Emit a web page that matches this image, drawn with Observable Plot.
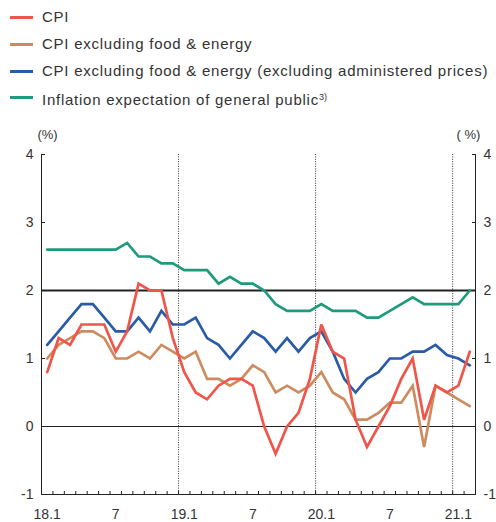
<!DOCTYPE html>
<html>
<head>
<meta charset="utf-8">
<script src="https://cdn.jsdelivr.net/npm/d3@7"></script>
<script src="https://cdn.jsdelivr.net/npm/@observablehq/plot@0.6"></script>
<style>
  html, body { margin: 0; padding: 0; background: #fff; }
  body { width: 496px; height: 522px; overflow: hidden; font-family: "Liberation Sans", Arial, sans-serif; }
  #legend { position: relative; height: 112px; width: 496px; }
  .item { position: absolute; left: 0; height: 20px; line-height: 20px; font-size: 15px; letter-spacing: 0.75px; color: #333; white-space: nowrap; }
  .sw { position: absolute; left: 10px; top: 8.5px; width: 23px; height: 3px; }
  .lbl { position: absolute; left: 42px; top: 0; }
  .lbl sup { font-size: 9px; letter-spacing: 0; vertical-align: 5px; }
  #chart svg { display: block; }
</style>
</head>
<body>
<div id="legend"></div>
<div id="chart"></div>
<script>
// Months: 2018.1 ... 2021.2
const months = [
  "18.1","18.2","18.3","18.4","18.5","18.6","18.7","18.8","18.9","18.10","18.11","18.12",
  "19.1","19.2","19.3","19.4","19.5","19.6","19.7","19.8","19.9","19.10","19.11","19.12",
  "20.1","20.2","20.3","20.4","20.5","20.6","20.7","20.8","20.9","20.10","20.11","20.12",
  "21.1","21.2"
];
const cpi = [
  0.8, 1.3, 1.2, 1.5, 1.5, 1.5, 1.1, 1.4, 2.1, 2.0, 2.0, 1.3,
  0.8, 0.5, 0.4, 0.6, 0.7, 0.7, 0.6, 0.0, -0.4, 0.0, 0.2, 0.7,
  1.5, 1.1, 1.0, 0.1, -0.3, 0.0, 0.3, 0.7, 1.0, 0.1, 0.6, 0.5,
  0.6, 1.1
];
const cpiExFoodEnergy = [
  1.0, 1.2, 1.3, 1.4, 1.4, 1.3, 1.0, 1.0, 1.1, 1.0, 1.2, 1.1,
  1.0, 1.1, 0.7, 0.7, 0.6, 0.7, 0.9, 0.8, 0.5, 0.6, 0.5, 0.6,
  0.8, 0.5, 0.4, 0.1, 0.1, 0.2, 0.35, 0.35, 0.6, -0.3, 0.6, 0.5,
  0.4, 0.3
];
const cpiExFoodEnergyAdmin = [
  1.2, 1.4, 1.6, 1.8, 1.8, 1.6, 1.4, 1.4, 1.6, 1.4, 1.7, 1.5,
  1.5, 1.6, 1.3, 1.2, 1.0, 1.2, 1.4, 1.3, 1.1, 1.3, 1.1, 1.3,
  1.4, 1.1, 0.7, 0.5, 0.7, 0.8, 1.0, 1.0, 1.1, 1.1, 1.2, 1.05,
  1.0, 0.9
];
const expectation = [
  2.6, 2.6, 2.6, 2.6, 2.6, 2.6, 2.6, 2.7, 2.5, 2.5, 2.4, 2.4,
  2.3, 2.3, 2.3, 2.1, 2.2, 2.1, 2.1, 2.0, 1.8, 1.7, 1.7, 1.7,
  1.8, 1.7, 1.7, 1.7, 1.6, 1.6, 1.7, 1.8, 1.9, 1.8, 1.8, 1.8,
  1.8, 2.0
];
const seriesNames = [
  "CPI",
  "CPI excluding food & energy",
  "CPI excluding food & energy (excluding administered prices)",
  "Inflation expectation of general public"
];
const seriesColors = ["#f0554a", "#cc8c5f", "#2a5ba6", "#21997c"];
const seriesValues = [cpi, cpiExFoodEnergy, cpiExFoodEnergyAdmin, expectation];
const xTickLabels = ["18.1", "7", "19.1", "7", "20.1", "7", "21.1"];
const xTickMonths = ["18.1", "18.7", "19.1", "19.7", "20.1", "20.7", "21.1"];
const yTicks = [-1, 0, 1, 2, 3, 4];
const yearStarts = ["19.1", "20.1", "21.1"];
const targetLine = 2;
const unitLabel = "(%)";
const unitLabelRight = "( %)";

// legend
const legend = document.getElementById("legend");
const legendTops = [7, 34, 61, 87];
seriesNames.forEach((name, i) => {
  const it = document.createElement("div");
  it.className = "item";
  it.style.top = legendTops[i] + "px";
  const sw = document.createElement("div");
  sw.className = "sw";
  sw.style.background = seriesColors[i];
  const lb = document.createElement("div");
  lb.className = "lbl";
  lb.innerHTML = name.replace("&", "&amp;") + (i === 3 ? "<sup>3)</sup>" : "");
  it.appendChild(sw); it.appendChild(lb);
  legend.appendChild(it);
});

// data table
const idx = new Map(months.map((m, i) => [m, i]));
const rows = [];
seriesValues.forEach((vals, s) => vals.forEach((v, i) => rows.push({series: seriesNames[s], i, v})));
const boundaries = months.slice(1).map((m, i) => i + 0.5);
const dividerPos = yearStarts.map(m => idx.get(m) - 0.5);
const labelPos = xTickMonths.map(m => idx.get(m));
const labelMap = new Map(labelPos.map((p, k) => [p, xTickLabels[k]]));
const xDomain = [-0.5, months.length - 0.5];
const fmtY = d => d < 0 ? "-" + Math.abs(d) : String(d);

const lineOrder = [3, 1, 2, 0];
const chart = Plot.plot({
  width: 496,
  height: 410,
  marginTop: 42,
  marginBottom: 28,
  marginLeft: 41,
  marginRight: 21,
  x: {domain: xDomain, label: null},
  y: {domain: [-1, 4], label: null},
  style: {
    fontFamily: "'Liberation Sans Narrow', 'Liberation Sans', Arial, sans-serif",
    fontSize: "14px",
    color: "#333",
    background: "white",
    overflow: "visible"
  },
  marks: [
    Plot.ruleY([0], {stroke: "#222", strokeWidth: 1}),
    Plot.ruleX(dividerPos, {stroke: "#333", strokeWidth: 1, strokeDasharray: "1,1.4"}),
    Plot.ruleY([targetLine], {stroke: "#222", strokeWidth: 2}),
    ...lineOrder.map(s => Plot.line(rows.filter(r => r.series === seriesNames[s]), {
      x: "i", y: "v", stroke: seriesColors[s], strokeWidth: 2.7, strokeLinejoin: "miter", strokeMiterlimit: 3
    })),
    Plot.ruleX([xDomain[0]], {stroke: "#222", strokeWidth: 1}),
    Plot.ruleX([xDomain[1]], {stroke: "#222", strokeWidth: 1}),
    Plot.ruleY([-1], {stroke: "#222", strokeWidth: 1}),
    Plot.axisY(yTicks, {anchor: "left", label: null, tickSize: -4, tickPadding: 12, stroke: "#222", tickFormat: fmtY}),
    Plot.axisY(yTicks, {anchor: "right", label: null, tickSize: -4, tickPadding: 12, stroke: "#222", tickFormat: fmtY}),
    Plot.axisX(boundaries, {anchor: "bottom", label: null, tickSize: -3, stroke: "#222", tickFormat: () => ""}),
    Plot.axisX(labelPos, {anchor: "bottom", label: null, tickSize: 0, tickPadding: 15, tickFormat: d => labelMap.get(d)}),
    Plot.text([unitLabel], {frameAnchor: "top-left", dx: 6, dy: -25, textAnchor: "middle", fontSize: 13, fontFamily: "'Liberation Sans', Arial, sans-serif"}),
    Plot.text([unitLabelRight], {frameAnchor: "top-right", dx: -7, dy: -25, textAnchor: "middle", fontSize: 13, fontFamily: "'Liberation Sans', Arial, sans-serif"})
  ]
});
document.getElementById("chart").appendChild(chart);
</script>
</body>
</html>
